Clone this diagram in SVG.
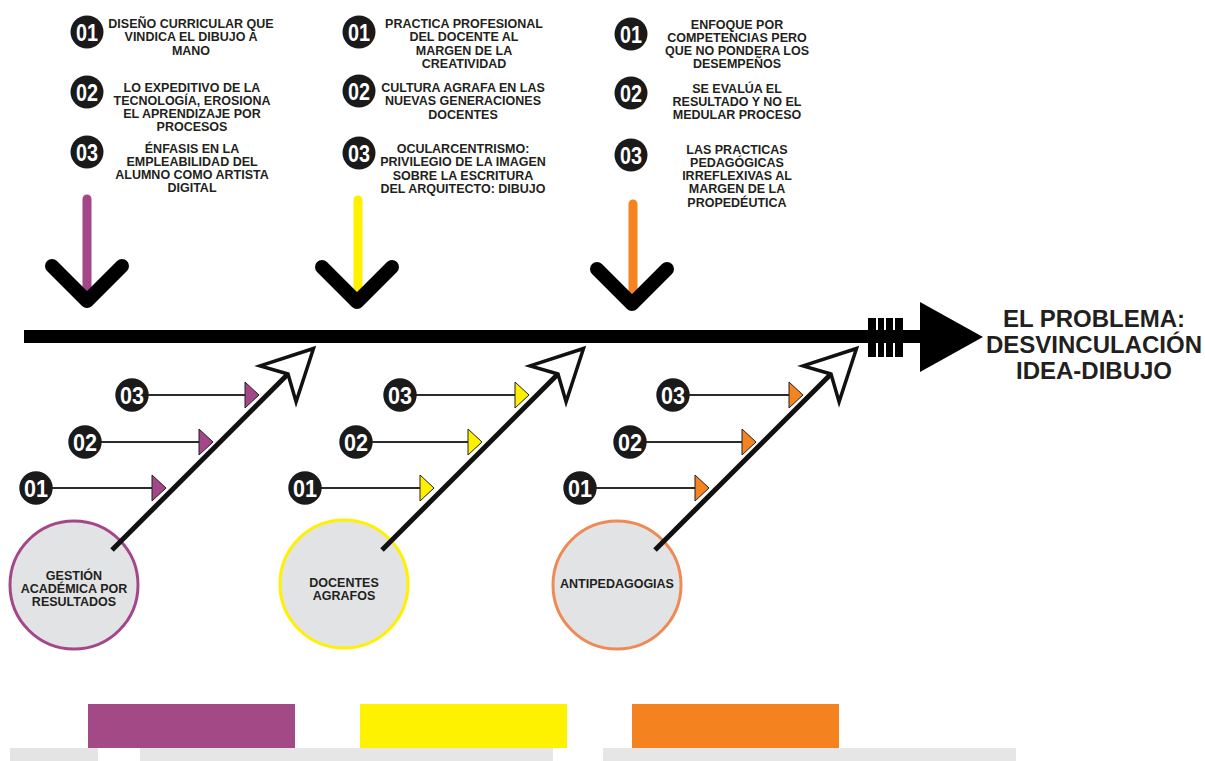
<svg xmlns="http://www.w3.org/2000/svg" width="1205" height="761" viewBox="0 0 1205 761">
  <style>
    .t { font-family: "Liberation Sans", Arial, sans-serif; font-weight: bold; font-size: 12.5px; fill: #231f20; text-anchor: middle; }
    .big { font-family: "Liberation Sans", Arial, sans-serif; font-weight: bold; font-size: 24px; fill: #231f20; text-anchor: middle; }
    .num { font-family: "Liberation Sans", Arial, sans-serif; font-weight: bold; font-size: 24px; fill: #ffffff; text-anchor: middle; }
    .dot { fill: #1a1a1a; }
    .rib { stroke: #2b2b2b; stroke-width: 2; fill: none; }
    .tri { stroke: #231f20; stroke-width: 1; }
    .bone { stroke: #111; stroke-width: 5; fill: none; }
    .head { fill: #ffffff; stroke: #111; stroke-width: 3.5; stroke-linejoin: miter; }
    .chev { fill: none; stroke: #000; stroke-width: 14; stroke-linecap: round; stroke-linejoin: round; }
    .stem { stroke-width: 9; stroke-linecap: round; }
    .cause { fill: #e2e3e5; stroke-width: 3; }
    .purple { fill: #a3478a; stroke: #a3478a; }
    .yellow { fill: #fff000; stroke: #fff000; }
    .orange { fill: #f5831f; stroke: #f5831f; }
  </style>
  <defs>
    <!-- open arrowhead, origin at the notch where the shaft ends -->
    <polygon id="openHead" class="head" points="25.5,-25.5 -27.9,-8.1 0,0 8.1,27.9"/>
    <polygon id="ribTri" points="0,-13 14,0 0,13"/>
  </defs>

  <rect width="1205" height="761" fill="#ffffff"/>

  <!-- main spine with feathered tail and head -->
  <g id="spine">
    <rect x="24" y="330" width="900" height="13" fill="#000"/>
    <rect x="868" y="318" width="35" height="39" fill="#000"/>
    <g stroke="#fff" stroke-width="2">
      <line x1="877" y1="318" x2="877" y2="330"/>
      <line x1="885" y1="318" x2="885" y2="330"/>
      <line x1="894" y1="318" x2="894" y2="330"/>
      <line x1="877" y1="343" x2="877" y2="357"/>
      <line x1="885" y1="343" x2="885" y2="357"/>
      <line x1="894" y1="343" x2="894" y2="357"/>
    </g>
    <polygon points="920,302 983,337 920,372" fill="#000"/>
  </g>

  <g id="problem">
    <text class="big" x="1094" y="327">EL PROBLEMA:</text>
    <text class="big" x="1094" y="353">DESVINCULACIÓN</text>
    <text class="big" x="1094" y="379">IDEA-DIBUJO</text>
  </g>

  <!-- top cause lists -->
  <g id="list-1">
    <circle class="dot" cx="87" cy="32" r="16.5"/><text class="num" x="87" y="41" textLength="22" lengthAdjust="spacingAndGlyphs">01</text>
    <text class="t" x="191" y="28">DISEÑO CURRICULAR QUE</text>
    <text class="t" x="191" y="41.3">VINDICA EL DIBUJO A</text>
    <text class="t" x="191" y="54.6">MANO</text>
    <circle class="dot" cx="87" cy="92" r="16.5"/><text class="num" x="87" y="101" textLength="22" lengthAdjust="spacingAndGlyphs">02</text>
    <text class="t" x="192" y="91.5">LO EXPEDITIVO DE LA</text>
    <text class="t" x="192" y="104.8">TECNOLOGÍA, EROSIONA</text>
    <text class="t" x="192" y="118.1">EL APRENDIZAJE POR</text>
    <text class="t" x="192" y="131.4">PROCESOS</text>
    <circle class="dot" cx="87" cy="152" r="16.5"/><text class="num" x="87" y="161" textLength="22" lengthAdjust="spacingAndGlyphs">03</text>
    <text class="t" x="192" y="152.5">ÉNFASIS EN LA</text>
    <text class="t" x="192" y="165.8">EMPLEABILIDAD DEL</text>
    <text class="t" x="192" y="179.1">ALUMNO COMO ARTISTA</text>
    <text class="t" x="192" y="192.4">DIGITAL</text>
  </g>
  <g id="list-2">
    <circle class="dot" cx="359" cy="32" r="16.5"/><text class="num" x="359" y="41" textLength="22" lengthAdjust="spacingAndGlyphs">01</text>
    <text class="t" x="464" y="28">PRACTICA PROFESIONAL</text>
    <text class="t" x="464" y="41.3">DEL DOCENTE AL</text>
    <text class="t" x="464" y="54.6">MARGEN DE LA</text>
    <text class="t" x="464" y="67.9">CREATIVIDAD</text>
    <circle class="dot" cx="359" cy="91" r="16.5"/><text class="num" x="359" y="100" textLength="22" lengthAdjust="spacingAndGlyphs">02</text>
    <text class="t" x="463" y="92">CULTURA AGRAFA EN LAS</text>
    <text class="t" x="463" y="105.3">NUEVAS GENERACIONES</text>
    <text class="t" x="463" y="118.6">DOCENTES</text>
    <circle class="dot" cx="359" cy="153" r="16.5"/><text class="num" x="359" y="162" textLength="22" lengthAdjust="spacingAndGlyphs">03</text>
    <text class="t" x="463" y="153">OCULARCENTRISMO:</text>
    <text class="t" x="463" y="166.3">PRIVILEGIO DE LA IMAGEN</text>
    <text class="t" x="463" y="179.6">SOBRE LA ESCRITURA</text>
    <text class="t" x="463" y="192.9">DEL ARQUITECTO: DIBUJO</text>
  </g>
  <g id="list-3">
    <circle class="dot" cx="631" cy="34" r="16.5"/><text class="num" x="631" y="43" textLength="22" lengthAdjust="spacingAndGlyphs">01</text>
    <text class="t" x="737" y="28.5">ENFOQUE POR</text>
    <text class="t" x="737" y="41.8">COMPETENCIAS PERO</text>
    <text class="t" x="737" y="55.1">QUE NO PONDERA LOS</text>
    <text class="t" x="737" y="68.4">DESEMPEÑOS</text>
    <circle class="dot" cx="631" cy="93" r="16.5"/><text class="num" x="631" y="102" textLength="22" lengthAdjust="spacingAndGlyphs">02</text>
    <text class="t" x="737" y="92.5">SE EVALÚA EL</text>
    <text class="t" x="737" y="105.8">RESULTADO Y NO EL</text>
    <text class="t" x="737" y="119.1">MEDULAR PROCESO</text>
    <circle class="dot" cx="631" cy="155" r="16.5"/><text class="num" x="631" y="164" textLength="22" lengthAdjust="spacingAndGlyphs">03</text>
    <text class="t" x="737" y="153.5">LAS PRACTICAS</text>
    <text class="t" x="737" y="166.8">PEDAGÓGICAS</text>
    <text class="t" x="737" y="180.1">IRREFLEXIVAS AL</text>
    <text class="t" x="737" y="193.4">MARGEN DE LA</text>
    <text class="t" x="737" y="206.7">PROPEDÉUTICA</text>
  </g>

  <!-- downward arrows onto the spine -->
  <g id="drop-arrows">
    <line class="stem purple" x1="87" y1="199" x2="87" y2="296"/>
    <polyline class="chev" points="52,266 87,301 122,266"/>
    <line class="stem yellow" x1="358" y1="200" x2="358" y2="296"/>
    <polyline class="chev" points="322,267 357,302 392,267"/>
    <line class="stem orange" x1="633" y1="204" x2="633" y2="300"/>
    <polyline class="chev" points="597,269 632,304 667,269"/>
  </g>

  <!-- cause circles -->
  <g id="cause-1">
    <circle class="cause" cx="74" cy="585" r="64" stroke="#a3478a"/>
    <text class="t" x="74" y="580">GESTIÓN</text>
    <text class="t" x="74" y="593">ACADÉMICA POR</text>
    <text class="t" x="74" y="606">RESULTADOS</text>
  </g>
  <g id="cause-2">
    <circle class="cause" cx="344" cy="584" r="64" stroke="#fff000"/>
    <text class="t" x="344" y="587">DOCENTES</text>
    <text class="t" x="344" y="600">AGRAFOS</text>
  </g>
  <g id="cause-3">
    <circle class="cause" cx="617" cy="585" r="64" stroke="#ef8a55"/>
    <text class="t" x="617" y="588">ANTIPEDAGOGIAS</text>
  </g>

  <!-- sub-cause ribs -->
  <g id="ribs">
    <line class="rib" x1="132" y1="395" x2="245" y2="395"/>
    <line class="rib" x1="85" y1="442" x2="199" y2="442"/>
    <line class="rib" x1="36" y1="488" x2="152" y2="488"/>
    <use href="#ribTri" class="tri" fill="#a3478a" x="245" y="395"/>
    <use href="#ribTri" class="tri" fill="#a3478a" x="199" y="442"/>
    <use href="#ribTri" class="tri" fill="#a3478a" x="152" y="488"/>

    <line class="rib" x1="400" y1="395" x2="515" y2="395"/>
    <line class="rib" x1="356" y1="442" x2="468" y2="442"/>
    <line class="rib" x1="305" y1="488" x2="420" y2="488"/>
    <use href="#ribTri" class="tri" fill="#fff000" x="515" y="395"/>
    <use href="#ribTri" class="tri" fill="#fff000" x="468" y="442"/>
    <use href="#ribTri" class="tri" fill="#fff000" x="420" y="488"/>

    <line class="rib" x1="673" y1="395" x2="789" y2="395"/>
    <line class="rib" x1="630" y1="442" x2="742" y2="442"/>
    <line class="rib" x1="580" y1="488" x2="695" y2="488"/>
    <use href="#ribTri" class="tri" fill="#f5831f" x="789" y="395"/>
    <use href="#ribTri" class="tri" fill="#f5831f" x="742" y="442"/>
    <use href="#ribTri" class="tri" fill="#f5831f" x="695" y="488"/>

    <circle class="dot" cx="132" cy="395" r="16.7"/><text class="num" x="132" y="404" textLength="24" lengthAdjust="spacingAndGlyphs">03</text>
    <circle class="dot" cx="85" cy="442" r="16.7"/><text class="num" x="85" y="451" textLength="24" lengthAdjust="spacingAndGlyphs">02</text>
    <circle class="dot" cx="36" cy="488" r="16.7"/><text class="num" x="36" y="497" textLength="24" lengthAdjust="spacingAndGlyphs">01</text>
    <circle class="dot" cx="400" cy="395" r="16.7"/><text class="num" x="400" y="404" textLength="24" lengthAdjust="spacingAndGlyphs">03</text>
    <circle class="dot" cx="356" cy="442" r="16.7"/><text class="num" x="356" y="451" textLength="24" lengthAdjust="spacingAndGlyphs">02</text>
    <circle class="dot" cx="305" cy="488" r="16.7"/><text class="num" x="305" y="497" textLength="24" lengthAdjust="spacingAndGlyphs">01</text>
    <circle class="dot" cx="673" cy="395" r="16.7"/><text class="num" x="673" y="404" textLength="24" lengthAdjust="spacingAndGlyphs">03</text>
    <circle class="dot" cx="630" cy="442" r="16.7"/><text class="num" x="630" y="451" textLength="24" lengthAdjust="spacingAndGlyphs">02</text>
    <circle class="dot" cx="580" cy="488" r="16.7"/><text class="num" x="580" y="497" textLength="24" lengthAdjust="spacingAndGlyphs">01</text>
  </g>

  <!-- diagonal bones from each cause to the spine -->
  <g id="bones">
    <line class="bone" x1="112" y1="550" x2="288" y2="374"/>
    <use href="#openHead" x="288" y="374"/>
    <line class="bone" x1="382" y1="550" x2="558" y2="374"/>
    <use href="#openHead" x="558" y="374"/>
    <line class="bone" x1="655" y1="550" x2="831" y2="374"/>
    <use href="#openHead" x="831" y="374"/>
  </g>

  <!-- colour legend bars -->
  <g id="legend">
    <rect x="88" y="704" width="207" height="44" fill="#a34986"/>
    <rect x="360" y="704" width="207" height="44" fill="#fff200"/>
    <rect x="632" y="704" width="207" height="44" fill="#f4821f"/>
    <rect x="10" y="748" width="88" height="13" fill="#e4e4e4"/>
    <rect x="140" y="748" width="413" height="13" fill="#e6e6e6"/>
    <rect x="603" y="748" width="413" height="13" fill="#e6e6e6"/>
  </g>
</svg>
